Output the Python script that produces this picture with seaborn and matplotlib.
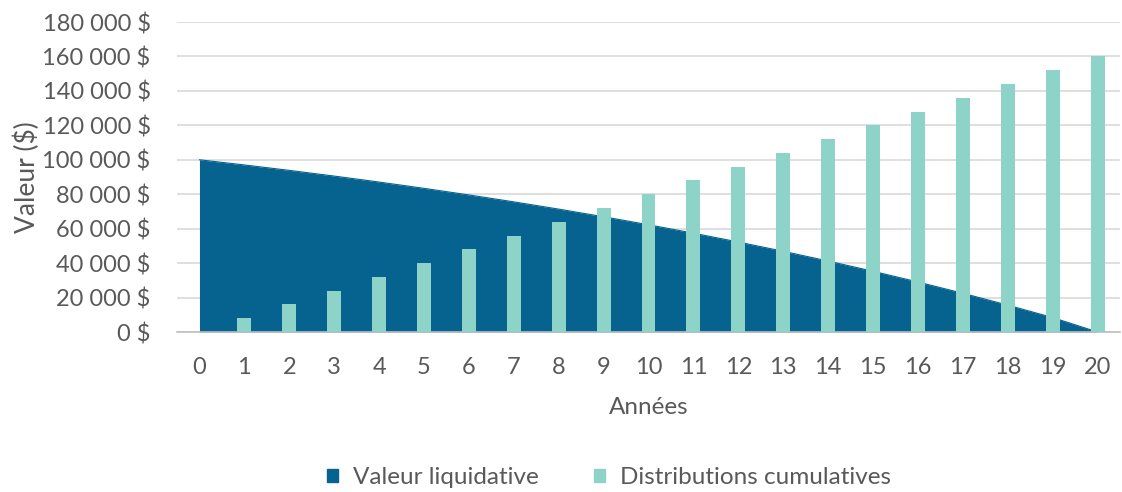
import matplotlib
matplotlib.use('Agg')
import matplotlib.pyplot as plt
import seaborn as sns
import pandas as pd
from matplotlib.patches import Patch
from matplotlib.ticker import FuncFormatter, MultipleLocator

years = list(range(0, 21))
valeur_liquidative = [100000, 97000, 93850, 90540, 87070, 83420, 79590, 75570,
                      71350, 66920, 62270, 57380, 52250, 46860, 41200, 35260,
                      29030, 22480, 15600, 8380, 0]
dist_years = list(range(1, 21))
distributions = [8000, 16000, 24000, 32000, 40000, 48000, 56000, 64000, 72000,
                 80000, 88000, 96000, 104000, 112000, 120000, 128000, 136000,
                 144000, 152000, 160000]

colors = {
    'Valeur liquidative': '#06638F',
    'Distributions cumulatives': '#8DD3C7',
}
text_color = '#595959'

sns.set_style('white')
plt.rcParams['font.family'] = ['Lato', 'DejaVu Sans']

fig = plt.figure(figsize=(11.22, 4.92), dpi=100)
ax = fig.add_axes([177 / 1122, 160 / 492, 943 / 1122, 310 / 492])

df_val = pd.DataFrame({'annee': years, 'valeur': valeur_liquidative})
df_dist = pd.DataFrame({'annee': dist_years, 'valeur': distributions})

ax.fill_between(df_val['annee'], df_val['valeur'], 0,
                color=colors['Valeur liquidative'], linewidth=0, zorder=2)
sns.lineplot(data=df_val, x='annee', y='valeur', ax=ax,
             color=colors['Valeur liquidative'], linewidth=0.8, zorder=2)
sns.barplot(data=df_dist, x='annee', y='valeur', ax=ax, native_scale=True,
            color=colors['Distributions cumulatives'], width=0.31,
            saturation=1, linewidth=0, edgecolor='none', zorder=3)

ax.set_xlim(-0.5, 20.5)
ax.set_ylim(0, 180000)
ax.yaxis.set_major_locator(MultipleLocator(20000))
ax.yaxis.set_major_formatter(
    FuncFormatter(lambda v, p: f'{int(v):,}'.replace(',', ' ') + ' $'))
ax.set_xticks(years)
ax.set_xticks([y - 0.5 for y in years] + [20.5], minor=True)
ax.tick_params(axis='x', which='major', length=0, pad=18,
               labelsize=17, labelcolor=text_color)
ax.tick_params(axis='x', which='minor', length=8, color='#BFBFBF', width=1)
ax.tick_params(axis='y', length=0, pad=19, labelsize=17, labelcolor=text_color)

ax.grid(axis='y', color='#D9D9D9', linewidth=1.2, zorder=0)
ax.set_axisbelow(True)
for s in ['top', 'right', 'left']:
    ax.spines[s].set_visible(False)
ax.spines['bottom'].set_color('#BFBFBF')
ax.spines['bottom'].set_linewidth(1.2)

ax.set_xlabel('Années', fontsize=17.5, color=text_color, labelpad=14)
ax.set_ylabel('Valeur ($)', fontsize=19, color=text_color, labelpad=2)

handles = [Patch(color=colors[k], label=k) for k in colors]
fig.legend(handles=handles, loc='center', bbox_to_anchor=(609 / 1122, 1 - 478 / 492),
           ncol=2, frameon=False, fontsize=17.5, handlelength=0.45,
           handleheight=0.45, handletextpad=0.6, columnspacing=2.3,
           labelcolor=text_color)

plt.savefig('out.png', dpi=100)
